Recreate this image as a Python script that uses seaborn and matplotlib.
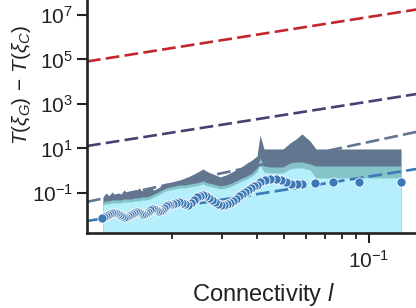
import numpy as np
import pandas as pd
import matplotlib
matplotlib.use("Agg")
import matplotlib.pyplot as plt
import seaborn as sns
from matplotlib.ticker import NullLocator, LogLocator, FixedLocator

# ---- data ----
pts_x = [0.01130, 0.01149, 0.01168, 0.01187, 0.01206, 0.01226, 0.01247, 0.01267, 0.01288, 0.01309,
         0.01331, 0.01353, 0.01375, 0.01398, 0.01420, 0.01444, 0.01468, 0.01492, 0.01516, 0.01541,
         0.01567, 0.01593, 0.01619, 0.01646, 0.01673, 0.01700, 0.01728, 0.01757, 0.01786, 0.01815,
         0.01845, 0.01875, 0.01906, 0.01937, 0.01969, 0.02018, 0.02068, 0.02120, 0.02173, 0.02226,
         0.02282, 0.02338, 0.02396, 0.02455, 0.02516, 0.02578, 0.02642, 0.02708, 0.02775, 0.02844,
         0.02914, 0.02987, 0.03061, 0.03137, 0.03214, 0.03294, 0.03376, 0.03459, 0.03545, 0.03633,
         0.03724, 0.03816, 0.03911, 0.04008, 0.04107, 0.04278, 0.04456, 0.04679, 0.04874, 0.05078,
         0.05289, 0.05555, 0.05786, 0.06435, 0.07454, 0.09215, 0.1299]
pts_y = [0.00752, 0.00834, 0.00925, 0.01026, 0.01138, 0.01262, 0.01262, 0.01262, 0.01138, 0.01026,
         0.00925, 0.00834, 0.00834, 0.00925, 0.01026, 0.01138, 0.01262, 0.01400, 0.01400, 0.01262,
         0.01138, 0.01138, 0.01262, 0.01400, 0.01722, 0.01909, 0.01909, 0.01722, 0.01552, 0.01552,
         0.01722, 0.02117, 0.02606, 0.02890, 0.02890, 0.03206, 0.03556, 0.03945, 0.03556, 0.03206,
         0.02890, 0.03556, 0.04842, 0.06607, 0.07328, 0.08128, 0.07328, 0.05957, 0.04842, 0.03945,
         0.03206, 0.02890, 0.02890, 0.03206, 0.03556, 0.04370, 0.05370, 0.07328, 0.09016, 0.1109,
         0.1365, 0.1678, 0.2065, 0.2291, 0.3121, 0.3839, 0.4257, 0.4257, 0.3839, 0.3121,
         0.2535, 0.2535, 0.2535, 0.2812, 0.3121, 0.3121, 0.3121]

band_x = [0.01139, 0.01168, 0.01197, 0.01226, 0.01257, 0.01288, 0.01320, 0.01353, 0.01386, 0.01432,
          0.01480, 0.01529, 0.01567, 0.01619, 0.01673, 0.01728, 0.01786, 0.01845, 0.01906, 0.01969,
          0.02051, 0.02137, 0.02226, 0.02319, 0.02435, 0.02578, 0.02686, 0.02798, 0.02962, 0.03111,
          0.03267, 0.03488, 0.03693, 0.03847, 0.04008, 0.04107, 0.04243, 0.04456, 0.04955, 0.05248,
          0.05510, 0.05786, 0.06178, 0.06487, 0.1299]
band_low = [0.0289, 0.0321, 0.0321, 0.0356, 0.0356, 0.0356, 0.0356, 0.0395, 0.0395, 0.0395,
            0.0437, 0.0437, 0.0484, 0.0484, 0.0537, 0.0661, 0.0813, 0.1, 0.1230, 0.1365,
            0.1513, 0.1678, 0.1678, 0.1862, 0.2065, 0.2535, 0.2065, 0.1862, 0.1513, 0.1678,
            0.2065, 0.3121, 0.4257, 0.581, 0.879, 1.81, 0.879, 0.793, 0.793, 1.20,
            1.33, 1.33, 1.08, 0.472, 0.472]
band_mid = [0.0395, 0.0437, 0.0437, 0.0484, 0.0484, 0.0484, 0.0484, 0.0537, 0.0537, 0.0537,
            0.0596, 0.0596, 0.0661, 0.0661, 0.0733, 0.0902, 0.1109, 0.1365, 0.1678, 0.1862,
            0.2065, 0.2291, 0.2291, 0.2535, 0.2812, 0.346, 0.2812, 0.2535, 0.2065, 0.2291,
            0.2812, 0.4257, 0.581, 0.793, 1.33, 3.74, 1.63, 1.47, 1.47, 2.23,
            2.47, 2.47, 2.01, 1.63, 1.63]
band_high = [0.0661, 0.1, 0.0733, 0.1109, 0.0813, 0.1, 0.0902, 0.1365, 0.1, 0.1230,
             0.1109, 0.1678, 0.1230, 0.1513, 0.1862, 0.1365, 0.1678, 0.2291, 0.2812, 0.2535,
             0.346, 0.3839, 0.472, 0.581, 0.793, 1.20, 0.879, 0.715, 0.524, 0.645,
             0.879, 1.33, 2.23, 3.04, 4.60, 40.4, 9.50, 9.50, 9.50, 17.66,
             26.7, 44.9, 21.7, 9.50, 9.50]

fit_x = [0.01, 0.18]
fit_red = [8.13e4, 2.63e7]
fit_purple = [12.9, 4.17e3]
fit_slate = [0.0398, 95.5]
fit_blue = [0.0055, 1.78]

C_CYAN = "#b4effb"
C_TEAL = "#85c5ca"
C_SLATE = "#63768f"
C_BLUE = "#3b7ab6"
C_RED = "#c1272d"
C_PURPLE = "#4a3f70"
C_INK = "#222222"

# ---- style ----
sns.set_style("ticks")
plt.rcParams["font.family"] = ["Liberation Sans", "DejaVu Sans"]
plt.rcParams["mathtext.fontset"] = "custom"
plt.rcParams["mathtext.rm"] = "Liberation Sans"
plt.rcParams["mathtext.it"] = "Liberation Sans:italic"
plt.rcParams["mathtext.bf"] = "Liberation Sans:bold"

fig = plt.figure(figsize=(4.16, 3.08), dpi=100)
ax = fig.add_axes([87 / 416, 75 / 308, 354 / 416, 291 / 308])

ax.set_xscale("log")
ax.set_yscale("log")

floor = 1e-4
ax.fill_between(band_x, floor, band_high, color=C_SLATE, lw=0, zorder=1)
ax.fill_between(band_x, floor, band_mid, color=C_TEAL, lw=0, zorder=1.1)
ax.fill_between(band_x, floor, band_low, color=C_CYAN, lw=0, zorder=1.2)

dash = (0, (5.2, 2.0))
for ys, c in [(fit_red, C_RED), (fit_purple, C_PURPLE), (fit_slate, C_SLATE), (fit_blue, C_BLUE)]:
    df = pd.DataFrame({"x": fit_x, "y": ys})
    sns.lineplot(data=df, x="x", y="y", ax=ax, color=c, lw=1.9, linestyle=dash, zorder=2)

pts = pd.DataFrame({"x": pts_x, "y": pts_y}).iloc[::-1]
sns.scatterplot(data=pts, x="x", y="y", ax=ax, color=C_BLUE, s=44, edgecolor="white",
                linewidth=0.6, zorder=3)

ax.set_xlim(0.01, 0.18)
ax.set_ylim(10 ** -2.8, 10 ** 10.28)

ax.xaxis.set_major_locator(FixedLocator([0.1]))
ax.xaxis.set_minor_locator(LogLocator(base=10, subs=np.arange(2, 10) * 1.0, numticks=20))
ax.yaxis.set_major_locator(FixedLocator([1e-1, 1e1, 1e3, 1e5, 1e7]))
ax.yaxis.set_minor_locator(NullLocator())

ax.tick_params(axis="both", which="major", length=7, width=1.5, labelsize=15, color=C_INK,
               labelcolor=C_INK)
ax.tick_params(axis="x", which="major", pad=5)
ax.tick_params(axis="y", which="major", pad=3)
ax.tick_params(axis="x", which="minor", length=4, width=1.3, color=C_INK)

for s in ["top", "right"]:
    ax.spines[s].set_visible(False)
for s in ["left", "bottom"]:
    ax.spines[s].set_linewidth(1.9)
    ax.spines[s].set_color(C_INK)

ax.set_xlabel("Connectivity $l$", fontsize=17, color=C_INK)
ax.set_ylabel(r"$T(\xi_G)\,-\,T(\xi_C)$", fontsize=15, color=C_INK)
ax.yaxis.set_label_coords(-0.152, 0.51)
ax.xaxis.set_label_coords(0.5, -0.165)

fig.savefig("out.png", dpi=100)
